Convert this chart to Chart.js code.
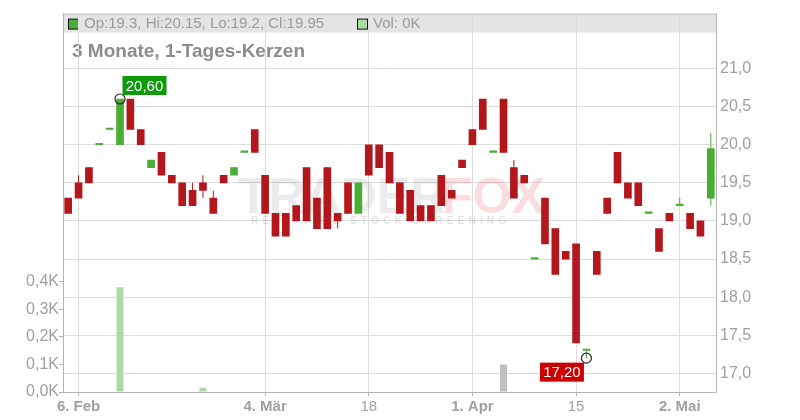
<!DOCTYPE html>
<html>
<head>
<meta charset="utf-8">
<script src="https://cdn.jsdelivr.net/npm/chart.js@4.4.1/dist/chart.umd.min.js"></script>
<style>
  html, body { margin: 0; padding: 0; background: #fff; }
  #wrap { width: 800px; height: 420px; }
</style>
</head>
<body>
<div id="wrap"><canvas id="chart" width="800" height="420"></canvas></div>
<script>
// Handelstage (Xetra 2019)
const days = [
  '2019-02-05','2019-02-06','2019-02-07','2019-02-08','2019-02-11','2019-02-12','2019-02-13','2019-02-14','2019-02-15',
  '2019-02-18','2019-02-19','2019-02-20','2019-02-21','2019-02-22','2019-02-25','2019-02-26','2019-02-27','2019-02-28',
  '2019-03-01','2019-03-04','2019-03-05','2019-03-06','2019-03-07','2019-03-08','2019-03-11','2019-03-12','2019-03-13',
  '2019-03-14','2019-03-15','2019-03-18','2019-03-19','2019-03-20','2019-03-21','2019-03-22','2019-03-25','2019-03-26',
  '2019-03-27','2019-03-28','2019-03-29','2019-04-01','2019-04-02','2019-04-03','2019-04-04','2019-04-05','2019-04-08',
  '2019-04-09','2019-04-10','2019-04-11','2019-04-12','2019-04-15','2019-04-16','2019-04-17','2019-04-18','2019-04-23',
  '2019-04-24','2019-04-25','2019-04-26','2019-04-29','2019-04-30','2019-05-02','2019-05-03','2019-05-06','2019-05-07'
];
const opens = [
  19.3,19.5,19.7,20.0,20.2,20.0,20.6,20.2,19.7,19.9, 19.6,19.5,19.4,19.5,19.3,19.6,19.6,19.9,20.2,19.6,
  19.1,19.1,19.2,19.7,19.3,19.7,19.1,19.5,19.1,20.0, 20.0,19.9,19.5,19.4,19.2,19.2,19.6,19.4,19.8,20.2,
  20.6,19.9,20.6,19.7,19.6,18.5,19.3,18.9,18.6,18.7, 17.3,18.6,19.3,19.9,19.5,19.5,19.1,18.9,19.1,19.2,
  19.1,19.0,19.3
];
const highs = [
  19.3,19.6,19.7,20.0,20.2,20.6,20.6,20.2,19.8,19.9, 19.6,19.5,19.5,19.6,19.4,19.6,19.7,19.9,20.2,19.6,
  19.1,19.1,19.2,19.7,19.3,19.7,19.1,19.5,19.5,20.0, 20.0,19.9,19.5,19.4,19.2,19.2,19.6,19.4,19.8,20.2,
  20.6,19.9,20.6,19.8,19.6,18.5,19.3,18.9,18.6,18.7, 17.3,18.6,19.3,19.9,19.5,19.5,19.1,18.9,19.1,19.3,
  19.1,19.0,20.15
];
const lows = [
  19.1,19.3,19.5,20.0,20.2,20.0,20.2,20.0,19.7,19.6, 19.5,19.2,19.2,19.3,19.1,19.5,19.6,19.9,19.9,19.1,
  18.8,18.8,19.0,19.0,18.9,18.9,18.9,19.1,19.1,19.6, 19.7,19.5,19.1,19.0,19.0,19.0,19.2,19.3,19.7,20.0,
  20.2,19.9,19.9,19.3,19.5,18.5,18.7,18.3,18.5,17.4, 17.2,18.3,19.1,19.5,19.3,19.2,19.1,18.6,19.0,19.2,
  18.9,18.8,19.2
];
const closes = [
  19.1,19.3,19.5,20.0,20.2,20.6,20.2,20.0,19.8,19.6, 19.5,19.2,19.2,19.4,19.1,19.5,19.7,19.9,19.9,19.1,
  18.8,18.8,19.0,19.0,18.9,18.9,19.0,19.1,19.5,19.6, 19.7,19.5,19.1,19.0,19.0,19.0,19.2,19.3,19.7,20.0,
  20.2,19.9,19.9,19.3,19.5,18.5,18.7,18.3,18.5,17.4, 17.3,18.3,19.1,19.5,19.3,19.2,19.1,18.6,19.0,19.2,
  18.9,18.8,19.95
];
const volumes = [
  0,0,0,0,0,380,0,0,0,0, 0,0,0,15,0,0,0,0,0,0,
  0,0,0,0,0,0,0,0,0,0, 0,0,0,0,0,0,0,0,0,0,
  0,0,100,0,0,0,0,0,0,0, 0,0,0,0,0,0,0,0,0,0,
  0,0,0
];
const xTickDays = ['2019-02-06', '2019-03-04', '2019-03-18', '2019-04-01', '2019-04-15', '2019-05-02'];
const xTickTexts = ['6. Feb', '4. Mär', '18', '1. Apr', '15', '2. Mai'];
const priceTicks = [17, 17.5, 18, 18.5, 19, 19.5, 20, 20.5, 21];
const volumeTicks = [0, 100, 200, 300, 400];
const markerDays = ['2019-02-12', '2019-04-16'];
const markerValues = [20.6, 17.2];

const FONT = '"Liberation Sans", Arial, sans-serif';
const RED = '#b3171b';
const GREEN = '#4aae35';
const TEXT = '#a0a0a0';
const GRID = '#dcdcdc';
const AXIS = '#b4b4b4';

const bodyColors = opens.map((o, i) => closes[i] >= o ? GREEN : RED);
const volColors = closes.map((c, i) => {
  if (i === 0 || c > closes[i - 1]) return '#a9dca2';
  if (c < closes[i - 1]) return '#e6a4a4';
  return '#c0c0c0';
});
const markerData = days.map(d => {
  const k = markerDays.indexOf(d);
  return k < 0 ? null : markerValues[k];
});

const fmt = (v, n) => v.toFixed(n).replace('.', ',');

// Kopfzeile, Titel, Wasserzeichen und Hoch/Tief-Etiketten
const decor = {
  id: 'decor',
  beforeDraw(chart) {
    const { ctx, chartArea: a } = chart;
    const last = days.length - 1;
    ctx.save();
    ctx.fillStyle = '#e4e4e4';
    ctx.fillRect(a.left, a.top, a.right - a.left, 19);
    ctx.strokeStyle = '#c4c4c4';
    ctx.lineWidth = 1;
    ctx.beginPath();
    ctx.moveTo(a.left, a.top + 0.5);
    ctx.lineTo(a.right, a.top + 0.5);
    ctx.stroke();

    ctx.strokeStyle = '#111';
    ctx.fillStyle = GREEN;
    ctx.fillRect(a.left + 5.5, a.top + 5.5, 10, 10);
    ctx.strokeRect(a.left + 5.5, a.top + 5.5, 10, 10);
    ctx.fillStyle = '#a9dca2';
    ctx.fillRect(a.left + 294.5, a.top + 5.5, 10, 10);
    ctx.strokeRect(a.left + 294.5, a.top + 5.5, 10, 10);

    ctx.font = '15px ' + FONT;
    ctx.fillStyle = '#9a9a9a';
    ctx.textBaseline = 'middle';
    ctx.fillText(`Op:${opens[last]}, Hi:${highs[last]}, Lo:${lows[last]}, Cl:${closes[last]}`, a.left + 21, a.top + 10.5);
    ctx.fillText(`Vol: ${Math.round(volumes[last] / 1000)}K`, a.left + 310, a.top + 10.5);

    ctx.font = 'bold 19px ' + FONT;
    ctx.fillStyle = '#8c8c8c';
    ctx.textBaseline = 'alphabetic';
    ctx.fillText('3 Monate, 1-Tages-Kerzen', a.left + 9, a.top + 43);
    ctx.restore();
  },
  beforeDatasetsDraw(chart) {
    const { ctx } = chart;
    ctx.save();
    ctx.textBaseline = 'alphabetic';
    ctx.font = 'bold 50px ' + FONT;
    ctx.fillStyle = 'rgba(0,0,0,0.08)';
    ctx.fillText('TRADER', 238, 213);
    ctx.fillStyle = 'rgba(235,60,80,0.18)';
    ctx.fillText('FOX', 442, 213);
    ctx.font = 'bold 10px ' + FONT;
    ctx.fillStyle = 'rgba(0,0,0,0.11)';
    ctx.letterSpacing = '4.2px';
    ctx.fillText('REAL-TIME STOCK SCREENING', 251, 224);
    ctx.restore();
  },
  afterDatasetsDraw(chart) {
    const { ctx, scales } = chart;
    const maxHigh = Math.max(...highs);
    ctx.save();
    ctx.font = '15px ' + FONT;
    ctx.textAlign = 'center';
    ctx.textBaseline = 'middle';
    markerDays.forEach((d, k) => {
      const px = scales.x.getPixelForValue(days.indexOf(d));
      const py = scales.y.getPixelForValue(markerValues[k]);
      const isHigh = markerValues[k] >= maxHigh;
      const w = 44, h = 19;
      const bx = isHigh ? px + 2.5 : px - 2.5 - w;
      const by = isHigh ? py - 4 - h : py + 4.5;
      ctx.fillStyle = isHigh ? '#0a9a0a' : '#cc0000';
      ctx.fillRect(bx, by, w, h);
      ctx.fillStyle = '#fff';
      ctx.fillText(fmt(markerValues[k], 2), bx + w / 2, by + h / 2 + 1);
    });
    ctx.restore();
  }
};

new Chart(document.getElementById('chart'), {
  type: 'bar',
  data: {
    labels: days,
    datasets: [
      {
        label: 'Volumen',
        data: volumes,
        yAxisID: 'v',
        backgroundColor: volColors,
        barThickness: 7,
        inflateAmount: 0,
        grouped: false,
        order: 3
      },
      {
        label: 'Docht',
        data: days.map((d, i) => [lows[i], highs[i]]),
        yAxisID: 'y',
        backgroundColor: bodyColors,
        barThickness: 1,
        inflateAmount: 0,
        grouped: false,
        order: 2
      },
      {
        label: 'Kerze',
        data: days.map((d, i) => [Math.min(opens[i], closes[i]), Math.max(opens[i], closes[i])]),
        yAxisID: 'y',
        backgroundColor: bodyColors,
        barThickness: 7,
        minBarLength: 1.5,
        grouped: false,
        order: 1
      },
      {
        type: 'line',
        label: 'Hoch/Tief',
        data: markerData,
        yAxisID: 'y',
        showLine: false,
        pointRadius: 5,
        pointBorderWidth: 1.2,
        pointBorderColor: '#222',
        pointBackgroundColor: 'rgba(0,0,0,0)',
        order: 0
      }
    ]
  },
  options: {
    responsive: false,
    animation: false,
    layout: { padding: { top: 11, left: 0, right: 0, bottom: 0 } },
    plugins: {
      legend: { display: false },
      tooltip: { enabled: false }
    },
    scales: {
      x: {
        type: 'category',
        offset: true,
        grid: { offset: false, color: GRID, tickColor: AXIS, tickLength: 4 },
        border: { color: AXIS },
        afterBuildTicks: s => { s.ticks = xTickDays.map(d => ({ value: days.indexOf(d) })); },
        ticks: {
          autoSkip: false,
          maxRotation: 0,
          color: TEXT,
          padding: 2,
          font: c => ({ family: FONT, size: 15, weight: xTickTexts[c.index] && xTickTexts[c.index].includes('.') ? 'bold' : 'normal' }),
          callback: (v, i) => xTickTexts[i]
        },
        afterFit: s => { s.height = 28; }
      },
      y: {
        position: 'right',
        min: 16.756,
        max: 21.72,
        grid: { color: GRID, drawTicks: false },
        border: { color: AXIS },
        afterBuildTicks: s => { s.ticks = priceTicks.map(v => ({ value: v })); },
        ticks: {
          color: TEXT,
          padding: 4,
          font: { family: FONT, size: 16 },
          callback: v => fmt(v, 1)
        },
        afterFit: s => { s.width = 84; }
      },
      v: {
        position: 'left',
        min: 0,
        max: 1373,
        grid: { drawOnChartArea: false, color: AXIS, tickLength: 4 },
        border: { color: AXIS },
        afterBuildTicks: s => { s.ticks = volumeTicks.map(v => ({ value: v })); },
        ticks: {
          color: TEXT,
          padding: 0,
          font: { family: FONT, size: 16 },
          callback: v => fmt(v / 1000, 1) + 'K'
        },
        afterFit: s => { s.width = 63; }
      }
    }
  },
  plugins: [decor]
});
</script>
</body>
</html>
